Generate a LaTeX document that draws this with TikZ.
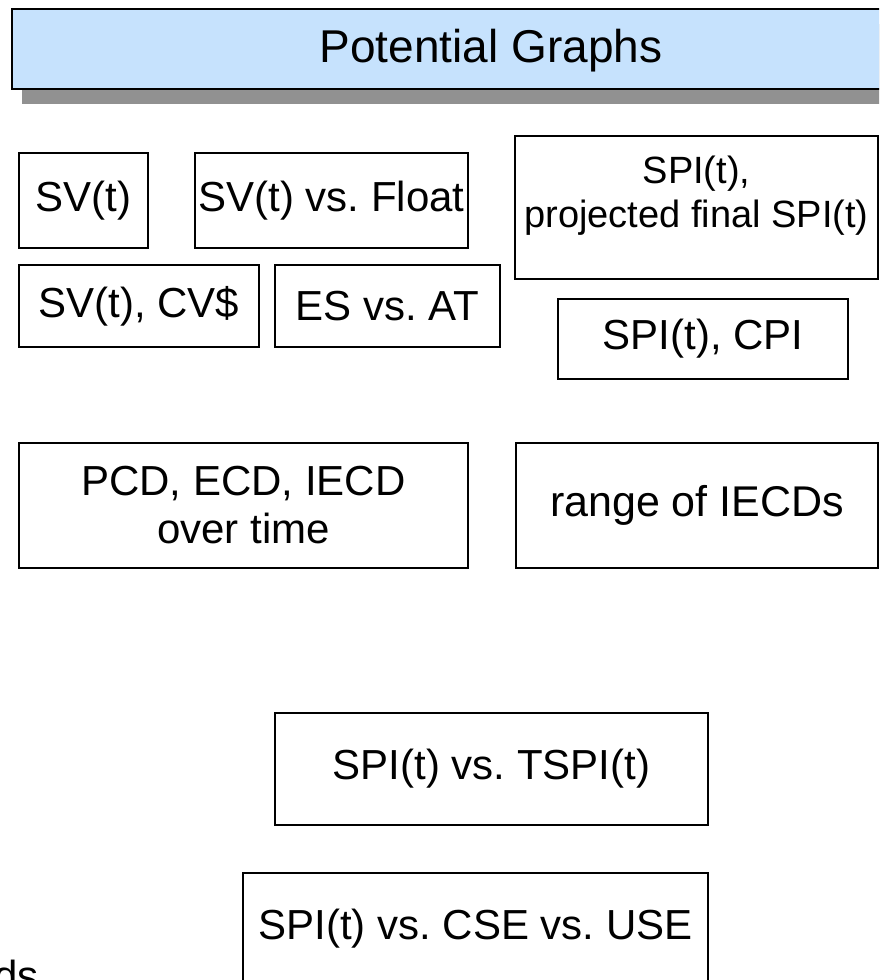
\documentclass[tikz,border=0pt]{standalone}
\usepackage{fontspec}
\setmainfont{Liberation Sans}
\usetikzlibrary{shadows}
\definecolor{titleblue}{RGB}{198,226,253}
\definecolor{shadowgray}{RGB}{145,145,145}
\frenchspacing
\begin{document}
\begin{tikzpicture}[x=1pt,y=-1pt,
  box/.style={draw=black, line width=2pt, align=center, inner sep=0pt, anchor=north west, font=\fontsize{42}{48}\selectfont},
  titlebox/.style={draw=black, line width=2pt, fill=titleblue, anchor=north west, inner sep=0pt,
    drop shadow={shadow xshift=10pt, shadow yshift=-15pt, fill=shadowgray, opacity=1}},
  plaintext/.style={inner sep=0pt, align=center},
]
\useasboundingbox (0,0) rectangle (879,980);
\clip (0,0) rectangle (879,980);
\node[titlebox, minimum width=958pt, minimum height=80pt] (title) at (11,8) {};
\node[plaintext, font=\fontsize{46}{52}\selectfont, yshift=-2pt] (titletext) at (title.center) {Potential Graphs};
\node[box, minimum width=129pt, minimum height=95pt] (sv) at (18,152) {SV(t)};
\node[box, minimum width=273pt, minimum height=95pt] (svf) at (194,152) {SV(t) vs. Float};
\node[box, minimum width=363pt, minimum height=143pt] (spip) at (514,135) {};
\node[plaintext, font=\fontsize{38}{44}\selectfont, yshift=12pt] (spiptext) at (spip.center) {SPI(t),\\projected final SPI(t)};
\node[box, minimum width=240pt, minimum height=82pt] (svcv) at (18,264) {SV(t), CV\$};
\node[box, minimum width=225pt, minimum height=82pt] (es) at (274,264) {ES vs. AT};
\node[box, minimum width=290pt, minimum height=80pt] (cpi) at (557,298) {SPI(t), CPI};
\node[box, minimum width=449pt, minimum height=125pt] (pcd) at (18,442) {PCD, ECD, IECD\\over time};
\node[box, minimum width=362pt, minimum height=125pt, font=\fontsize{43}{48}\selectfont] (range) at (515,442) {range of IECDs};
\node[box, minimum width=433pt, minimum height=112pt] (tspi) at (274,712) {SPI(t) vs. TSPI(t)};
\node[box, minimum width=465pt, minimum height=112pt] (cse) at (242,872) {SPI(t) vs. CSE vs. USE};
\node[anchor=base west, inner sep=0pt, font=\fontsize{42}{48}\selectfont] (ds) at (-6,990) {ds};
\end{tikzpicture}
\end{document}
